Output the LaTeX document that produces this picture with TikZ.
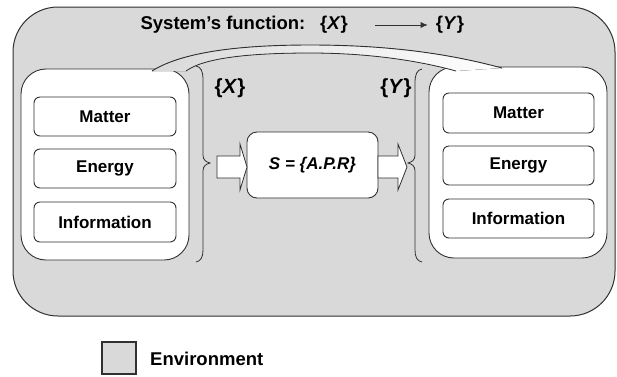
\documentclass[tikz,border=0pt]{standalone}
\usepackage{fontspec}
\setmainfont{Liberation Sans}
\usetikzlibrary{arrows.meta}
\definecolor{envgray}{HTML}{D9D9D9}
\definecolor{edge}{HTML}{303030}
\begin{document}
\begin{tikzpicture}[x=1pt,y=-1pt,
  bigbox/.style={draw=edge, line width=0.9pt, fill=white, rounded corners=25pt, inner sep=0pt},
  itembox/.style={draw=edge, line width=0.9pt, fill=white, rounded corners=6pt, inner sep=0pt,
                  font=\fontsize{17}{19}\selectfont\bfseries},
  setlbl/.style={inner sep=0pt, font=\fontsize{20.5}{22}\selectfont\bfseries},
  titlelbl/.style={inner sep=0pt, font=\fontsize{18.5}{20}\selectfont\bfseries},
  bracestyle/.style={draw=edge, line width=0.8pt},
  blockarrow/.style={draw=edge, line width=0.8pt, fill=white}
]
\useasboundingbox (0,0) rectangle (617,376);
% environment
\draw[fill=envgray, draw=edge, line width=1pt, rounded corners=45pt] (13,7) rectangle (615,316);

% title
\node[titlelbl] (title) at (223,25) {System's function:};
\node[titlelbl] (tx) at (334,25) {\{\textit{X}\}};
\node[titlelbl] (ty) at (450,25) {\{\textit{Y}\}};
\draw[edge, line width=0.8pt, -{Latex[length=7pt,width=6pt]}, shorten <=27pt, shorten >=8pt] (tx) -- (ty);

% left box
\node[bigbox, minimum width=168pt, minimum height=191pt] (lbox) at (105,164.5) {};
\node[itembox, minimum width=142pt, minimum height=39pt] (lm) at (105,116.5) {Matter};
\node[itembox, minimum width=142pt, minimum height=39pt] (le) at (105,168.5) {Energy};
\node[itembox, minimum width=142pt, minimum height=40pt] (li) at (105,222) {Information};

% right box
\node[bigbox, minimum width=178pt, minimum height=191pt] (rbox) at (518,162.5) {};
\node[itembox, minimum width=151pt, minimum height=40pt] (rm) at (518.5,113) {Matter};
\node[itembox, minimum width=151pt, minimum height=39pt] (re) at (518.5,165.5) {Energy};
\node[itembox, minimum width=151pt, minimum height=39pt] (ri) at (518.5,218.5) {Information};

% system box
\node[draw=edge, line width=0.9pt, fill=white, rounded corners=10pt, minimum width=131pt, minimum height=66pt,
      inner sep=0pt, font=\fontsize{17}{19}\selectfont\bfseries\itshape] (sys) at (312.5,165) {S = \{A.P.R\}};

% ribbon (callout)
\fill[left color=envgray, right color=white]
  (152,71) .. controls (185,50) and (250,45) .. (310,45) .. controls (390,45) and (450,54) .. (502,68)
  -- (456,71) .. controls (420,61) and (370,53) .. (310,53) .. controls (255,53) and (205,57) .. (186,71) -- cycle;
\draw[edge, line width=0.9pt]
  (152,71) .. controls (185,50) and (250,45) .. (310,45) .. controls (390,45) and (450,54) .. (502,68);
\draw[edge, line width=0.8pt]
  (456,71) .. controls (420,61) and (370,53) .. (310,53) .. controls (255,53) and (205,57) .. (186,71);

% braces
\draw[bracestyle] (196,66) .. controls (201,67) and (203,71) .. (203,80) -- (203,155)
  .. controls (203,160) and (206,162) .. (210,163) .. controls (206,164) and (203,166) .. (203,171)
  -- (203,250) .. controls (203,257) and (201,261) .. (196,262);
\draw[bracestyle] (422,69) .. controls (417,70) and (415,74) .. (415,83) -- (415,155)
  .. controls (415,160) and (412,162) .. (408,163) .. controls (412,164) and (415,166) .. (415,171)
  -- (415,250) .. controls (415,257) and (417,261) .. (422,262);

% set labels
\node[setlbl] (lx) at (230,88) {\{\textit{X}\}};
\node[setlbl] (ly) at (396,88) {\{\textit{Y}\}};

% block arrows
\draw[blockarrow] (217,156) -- (240,156) -- (240,144) -- (247,167) -- (240,190) -- (240,178) -- (217,178) -- cycle;
\draw[blockarrow] (378,156) -- (398,156) -- (398,144) -- (407,167) -- (398,190) -- (398,178) -- (378,178) -- cycle;

% legend
\node[draw=edge, line width=1.3pt, fill=envgray, minimum width=34pt, minimum height=32pt, inner sep=0pt] (leg) at (119,358) {};
\node[titlelbl, anchor=west] (legtxt) at (150,359) {Environment};
\end{tikzpicture}
\end{document}
